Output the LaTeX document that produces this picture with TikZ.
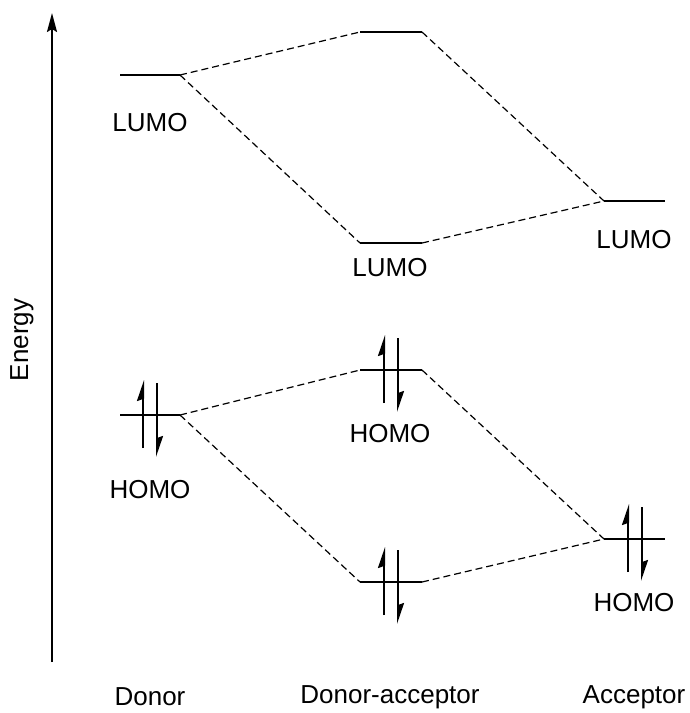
\documentclass[tikz,border=0pt]{standalone}
\usepackage{fontspec}
\setmainfont{Liberation Sans}
\usetikzlibrary{arrows.meta}
\begin{document}
\begin{tikzpicture}[x=1pt,y=-1pt,
  level/.style={line width=2pt},
  corr/.style={line width=1.2pt, dash pattern=on 7pt off 4pt},
  lbl/.style={font=\fontsize{26}{30}\selectfont, inner sep=0pt},
  spinarrow/.style={line width=2pt, -{Stealth[harpoon,length=18pt,width=12pt,inset=2pt]}},
  pics/spins/.style={code={
    \draw[spinarrow] (-7,33) -- (-7,-35);
    \draw[spinarrow] (7,-32) -- (7,42);
  }}]
\useasboundingbox (0,0) rectangle (689,713);

% energy axis
\coordinate (ax0) at (52,662);
\coordinate (ax1) at (52,13);
\draw[line width=2pt, -{Stealth[length=19pt,width=10pt,inset=3pt]}] (ax0) -- (ax1);
\node[lbl, rotate=90] (energy) at (22,340) {Energy};

% level end points
\coordinate (dL-l) at (120,75);   \coordinate (dL-r) at (180,75);
\coordinate (dH-l) at (120,415);  \coordinate (dH-r) at (180,415);
\coordinate (u1-l) at (360,32);   \coordinate (u1-r) at (422,32);
\coordinate (u2-l) at (360,243);  \coordinate (u2-r) at (422,243);
\coordinate (h1-l) at (360,370);  \coordinate (h1-r) at (422,370);
\coordinate (h2-l) at (360,582);  \coordinate (h2-r) at (422,582);
\coordinate (aL-l) at (604,201);  \coordinate (aL-r) at (665,201);
\coordinate (aH-l) at (604,539);  \coordinate (aH-r) at (665,539);

% levels
\foreach \n in {dL,dH,u1,u2,h1,h2,aL,aH}
  \draw[level] (\n-l) -- (\n-r);

% correlation lines
\draw[corr] (dL-r) -- (u1-l);
\draw[corr] (dL-r) -- (u2-l);
\draw[corr] (u1-r) -- (aL-l);
\draw[corr] (u2-r) -- (aL-l);
\draw[corr] (dH-r) -- (h1-l);
\draw[corr] (dH-r) -- (h2-l);
\draw[corr] (h1-r) -- (aH-l);
\draw[corr] (h2-r) -- (aH-l);

% electron pairs
\pic at (150,415) {spins};
\pic at (391,370) {spins};
\pic at (391,582) {spins};
\pic at (635,539) {spins};

% labels
\node[lbl] (l1) at (150,123) {LUMO};
\node[lbl] (l2) at (390,268) {LUMO};
\node[lbl] (l3) at (634,240) {LUMO};
\node[lbl] (h1) at (150,490) {HOMO};
\node[lbl] (h2) at (390,434) {HOMO};
\node[lbl] (h3) at (634,603) {HOMO};
\node[lbl] (c1) at (150,697) {Donor};
\node[lbl] (c2) at (390,697) {Donor-acceptor};
\node[lbl] (c3) at (634,697) {Acceptor};
\end{tikzpicture}
\end{document}
